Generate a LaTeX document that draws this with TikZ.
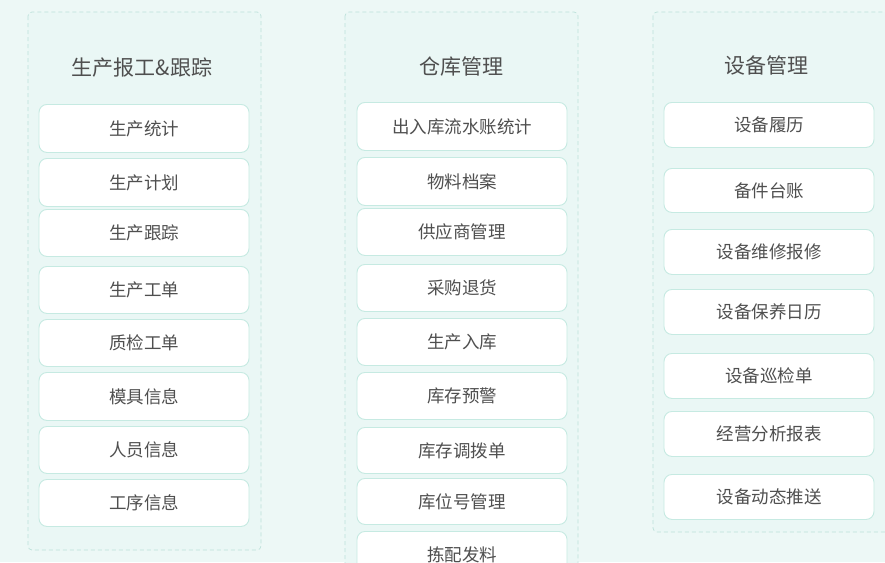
\documentclass[tikz,border=0pt]{standalone}
\usepackage{fontspec}
\setmainfont{Noto Sans CJK SC}
\definecolor{bgc}{HTML}{EDF8F6}
\definecolor{panelfill}{HTML}{EAF7F5}
\definecolor{paneldraw}{HTML}{BCE1DA}
\definecolor{itemdraw}{HTML}{C6EAE2}
\definecolor{txt}{HTML}{4F4F4F}
\begin{document}
\begin{tikzpicture}[x=1pt,y=-1pt,
  panel/.style={draw=paneldraw,fill=panelfill,dashed,dash pattern=on 4pt off 3pt,rounded corners=4pt,line width=0.7pt},
  item/.style={draw=itemdraw,fill=white,rounded corners=8pt,line width=0.9pt,minimum width=210pt,anchor=north,text=txt,font=\fontsize{17.5}{20}\selectfont,inner sep=0pt},
  ttl/.style={text=txt,font=\fontsize{21}{24}\selectfont}]
\fill[bgc] (0,0) rectangle (885,562);
\useasboundingbox (0,0) rectangle (885,562);
% panels
\draw[panel] (28,12) rectangle (261,550);
\draw[panel] (345,12) rectangle (578,575);
\draw[panel] (653,12) rectangle (900,532);
\node[ttl] (t1) at (142,68) {生产报工\&跟踪};
\node[ttl] (t2) at (461,67) {仓库管理};
\node[ttl] (t3) at (766,66) {设备管理};
% left column
\node[item,minimum height=48pt] (a1) at (144,104) {生产统计};
\node[item,minimum height=48pt] (a2) at (144,158) {生产计划};
\node[item,minimum height=47pt] (a3) at (144,209) {生产跟踪};
\node[item,minimum height=47pt] (a4) at (144,266) {生产工单};
\node[item,minimum height=47pt] (a5) at (144,319) {质检工单};
\node[item,minimum height=48pt] (a6) at (144,372) {模具信息};
\node[item,minimum height=47pt] (a7) at (144,426) {人员信息};
\node[item,minimum height=47pt] (a8) at (144,479) {工序信息};
% middle column
\node[item,minimum height=48pt] (b1) at (462,102) {出入库流水账统计};
\node[item,minimum height=48pt] (b2) at (462,157) {物料档案};
\node[item,minimum height=47pt] (b3) at (462,208) {供应商管理};
\node[item,minimum height=47pt] (b4) at (462,264) {采购退货};
\node[item,minimum height=47pt] (b5) at (462,318) {生产入库};
\node[item,minimum height=47pt] (b6) at (462,372) {库存预警};
\node[item,minimum height=46pt] (b7) at (462,427) {库存调拨单};
\node[item,minimum height=46pt] (b8) at (462,478) {库位号管理};
\node[item,minimum height=46pt] (b9) at (462,531) {拣配发料};
% right column
\node[item,minimum height=45pt] (c1) at (769,102) {设备履历};
\node[item,minimum height=44pt] (c2) at (769,168) {备件台账};
\node[item,minimum height=45pt] (c3) at (769,229) {设备维修报修};
\node[item,minimum height=45pt] (c4) at (769,289) {设备保养日历};
\node[item,minimum height=45pt] (c5) at (769,353) {设备巡检单};
\node[item,minimum height=45pt] (c6) at (769,411) {经营分析报表};
\node[item,minimum height=45pt] (c7) at (769,474) {设备动态推送};
\end{tikzpicture}
\end{document}
